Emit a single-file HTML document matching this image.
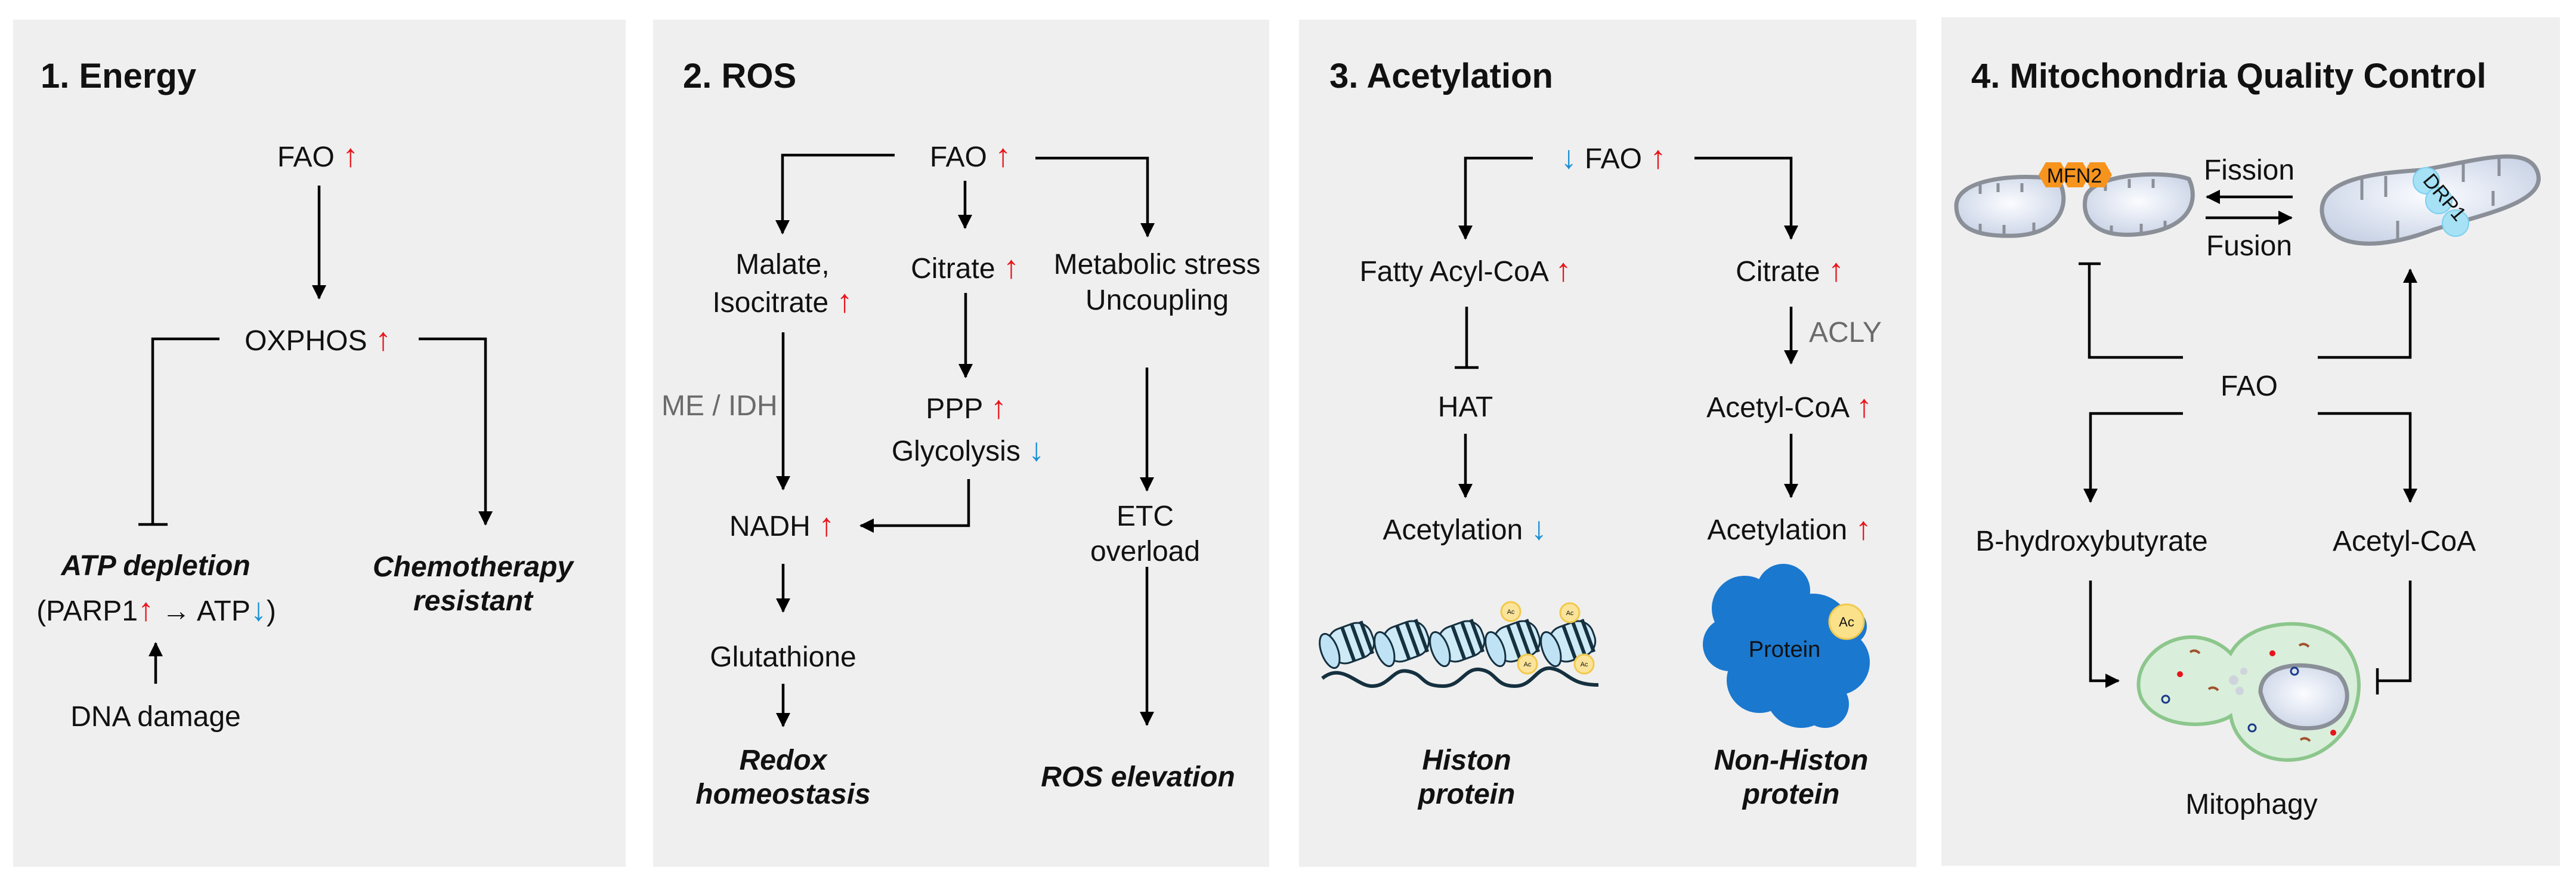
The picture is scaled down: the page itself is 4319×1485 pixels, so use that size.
<!DOCTYPE html>
<html><head><meta charset="utf-8"><style>
html,body{margin:0;padding:0;background:#fff;}
svg{display:block;}
text{font-family:"Liberation Sans",Arial,sans-serif;font-size:48px;fill:#111;}
.t{font-size:58px;font-weight:bold;}
.bi{font-weight:bold;font-style:italic;}
.g{fill:#6b6b6b;}
.r{fill:#e8141b;font-size:54px;}
.b{fill:#1a8fd6;font-size:54px;}
</style></head><body>
<svg width="4319" height="1485" viewBox="0 0 4319 1485" xmlns="http://www.w3.org/2000/svg">
<defs>
<marker id="ah" markerUnits="userSpaceOnUse" markerWidth="30" markerHeight="30" refX="22" refY="12" orient="auto">
<path d="M0,0 L24,12 L0,24 Z" fill="#000"/>
</marker>
<radialGradient id="mg" cx="50%" cy="45%" r="60%"><stop offset="0" stop-color="#fbfcff"/><stop offset="1" stop-color="#c9d3e6"/></radialGradient>
</defs>
<rect width="4319" height="1485" fill="#fff"/>
<rect x="22" y="33" width="1027" height="1420" fill="#efefef"/>
<rect x="1095" y="33" width="1033" height="1420" fill="#efefef"/>
<rect x="2178" y="33" width="1035" height="1420" fill="#efefef"/>
<rect x="3255" y="29" width="1037" height="1422" fill="#efefef"/>

<g stroke="#000" stroke-width="4.5" fill="none">
<path d="M535,311 V500" marker-end="url(#ah)"/>
<path d="M368,568 H256 V879 M232,879 H281"/>
<path d="M702,568 H814 V879" marker-end="url(#ah)"/>
<path d="M261,1146 V1078" marker-end="url(#ah)"/>
<path d="M1500,260 H1312 V391" marker-end="url(#ah)"/>
<path d="M1618,303 V382" marker-end="url(#ah)"/>
<path d="M1736,265 H1924 V396" marker-end="url(#ah)"/>
<path d="M1313,557 V820" marker-end="url(#ah)"/>
<path d="M1619,491 V632" marker-end="url(#ah)"/>
<path d="M1624,803 V881 H1443" marker-end="url(#ah)"/>
<path d="M1923,616 V822" marker-end="url(#ah)"/>
<path d="M1313,945 V1025" marker-end="url(#ah)"/>
<path d="M1313,1146 V1217" marker-end="url(#ah)"/>
<path d="M1923,950 V1215" marker-end="url(#ah)"/>
<path d="M2570,265 H2457 V400" marker-end="url(#ah)"/>
<path d="M2841,265 H3003 V400" marker-end="url(#ah)"/>
<path d="M2459,514 V616 M2439,616 H2479"/>
<path d="M2457,727 V833" marker-end="url(#ah)"/>
<path d="M3003,514 V609" marker-end="url(#ah)"/>
<path d="M3003,727 V833" marker-end="url(#ah)"/>
<path d="M3844,330 H3700" marker-end="url(#ah)"/>
<path d="M3698,365 H3842" marker-end="url(#ah)"/>
<path d="M3660,599 H3503 V442 M3485,442 H3522"/>
<path d="M3886,599 H4041 V452" marker-end="url(#ah)"/>
<path d="M3660,693 H3505 V841" marker-end="url(#ah)"/>
<path d="M3886,693 H4041 V841" marker-end="url(#ah)"/>
<path d="M3505,973 V1141 H3552" marker-end="url(#ah)"/>
<path d="M4041,973 V1141 H3986 M3986,1120 V1164"/>
</g>

<text class="t" x="68" y="147">1. Energy</text>
<text x="533" y="279" text-anchor="middle">FAO <tspan class="r">↑</tspan></text>
<text x="533" y="587" text-anchor="middle">OXPHOS <tspan class="r">↑</tspan></text>
<text class="bi" x="261" y="964" text-anchor="middle">ATP depletion</text>
<text x="262" y="1040" text-anchor="middle">(PARP1<tspan class="r">↑</tspan> → ATP<tspan class="b">↓</tspan>)</text>
<text x="261" y="1217" text-anchor="middle">DNA damage</text>
<text class="bi" x="793" y="966" text-anchor="middle">Chemotherapy</text>
<text class="bi" x="793" y="1023" text-anchor="middle">resistant</text>

<text class="t" x="1145" y="147">2. ROS</text>
<text x="1627" y="279" text-anchor="middle">FAO <tspan class="r">↑</tspan></text>
<text x="1312" y="459" text-anchor="middle">Malate,</text>
<text x="1312" y="523" text-anchor="middle">Isocitrate <tspan class="r">↑</tspan></text>
<text x="1618" y="466" text-anchor="middle">Citrate <tspan class="r">↑</tspan></text>
<text x="1940" y="459" text-anchor="middle">Metabolic stress</text>
<text x="1940" y="519" text-anchor="middle">Uncoupling</text>
<text class="g" x="1109" y="696">ME / IDH</text>
<text x="1620" y="701" text-anchor="middle">PPP <tspan class="r">↑</tspan></text>
<text x="1623" y="772" text-anchor="middle">Glycolysis <tspan class="b">↓</tspan></text>
<text x="1311" y="898" text-anchor="middle">NADH <tspan class="r">↑</tspan></text>
<text x="1920" y="881" text-anchor="middle">ETC</text>
<text x="1920" y="940" text-anchor="middle">overload</text>
<text x="1313" y="1117" text-anchor="middle">Glutathione</text>
<text class="bi" x="1313" y="1290" text-anchor="middle">Redox</text>
<text class="bi" x="1313" y="1347" text-anchor="middle">homeostasis</text>
<text class="bi" x="1908" y="1318" text-anchor="middle">ROS elevation</text>

<text class="t" x="2229" y="147">3. Acetylation</text>
<text x="2705" y="282" text-anchor="middle"><tspan class="b">↓</tspan> FAO <tspan class="r">↑</tspan></text>
<text x="2457" y="471" text-anchor="middle">Fatty Acyl-CoA <tspan class="r">↑</tspan></text>
<text x="3001" y="471" text-anchor="middle">Citrate <tspan class="r">↑</tspan></text>
<text class="g" x="3033" y="573">ACLY</text>
<text x="2457" y="698" text-anchor="middle">HAT</text>
<text x="3000" y="699" text-anchor="middle">Acetyl-CoA <tspan class="r">↑</tspan></text>
<text x="2456" y="904" text-anchor="middle">Acetylation <tspan class="b">↓</tspan></text>
<text x="3000" y="904" text-anchor="middle">Acetylation <tspan class="r">↑</tspan></text>

<path d="M2217,1137 C2250,1110 2275,1150 2300,1150 C2330,1150 2335,1120 2360,1125 C2390,1130 2380,1150 2420,1150 C2450,1150 2455,1120 2480,1122 C2510,1125 2505,1150 2540,1150 C2570,1150 2575,1118 2600,1120 C2630,1125 2630,1148 2680,1148" stroke="#15303f" stroke-width="6" fill="none"/>
<g stroke="#15303f" stroke-width="3">
<g transform="translate(2265,1078) rotate(-20)"><rect x="-38" y="-30" width="76" height="60" rx="26" fill="#cfeaf7"/><path d="M-5,-31 V31 M12,-31 V31 M28,-29 V29" stroke-width="6"/><ellipse cx="-38" cy="0" rx="14" ry="30" fill="#bfe3f4"/></g>
<g transform="translate(2357,1075) rotate(-20)"><rect x="-38" y="-30" width="76" height="60" rx="26" fill="#cfeaf7"/><path d="M-5,-31 V31 M12,-31 V31 M28,-29 V29" stroke-width="6"/><ellipse cx="-38" cy="0" rx="14" ry="30" fill="#bfe3f4"/></g>
<g transform="translate(2450,1075) rotate(-20)"><rect x="-38" y="-30" width="76" height="60" rx="26" fill="#cfeaf7"/><path d="M-5,-31 V31 M12,-31 V31 M28,-29 V29" stroke-width="6"/><ellipse cx="-38" cy="0" rx="14" ry="30" fill="#bfe3f4"/></g>
<g transform="translate(2543,1075) rotate(-20)"><rect x="-38" y="-30" width="76" height="60" rx="26" fill="#cfeaf7"/><path d="M-5,-31 V31 M12,-31 V31 M28,-29 V29" stroke-width="6"/><ellipse cx="-38" cy="0" rx="14" ry="30" fill="#bfe3f4"/></g>
<g transform="translate(2636,1075) rotate(-20)"><rect x="-38" y="-30" width="76" height="60" rx="26" fill="#cfeaf7"/><path d="M-5,-31 V31 M12,-31 V31 M28,-29 V29" stroke-width="6"/><ellipse cx="-38" cy="0" rx="14" ry="30" fill="#bfe3f4"/></g>
</g>
<g fill="#fbe49a" stroke="#f2c94c" stroke-width="3">
<circle cx="2533" cy="1025" r="16"/><circle cx="2561" cy="1113" r="16"/><circle cx="2632" cy="1027" r="16"/><circle cx="2656" cy="1113" r="16"/>
</g>
<g text-anchor="middle"><text x="2533" y="1029" style="font-size:11px">Ac</text><text x="2561" y="1117" style="font-size:11px">Ac</text><text x="2632" y="1031" style="font-size:11px">Ac</text><text x="2656" y="1117" style="font-size:11px">Ac</text></g>

<g fill="#1a78cf">
<circle cx="2925" cy="1020" r="55"/><circle cx="2990" cy="990" r="45"/><circle cx="2900" cy="1080" r="45"/><circle cx="2960" cy="1060" r="70"/>
<circle cx="3040" cy="1060" r="65"/><circle cx="3080" cy="1110" r="55"/><circle cx="3020" cy="1160" r="60"/><circle cx="2950" cy="1140" r="55"/><circle cx="3060" cy="1180" r="40"/><circle cx="3100" cy="1050" r="30"/>
</g>
<text x="2992" y="1101" text-anchor="middle" style="font-size:38px">Protein</text>
<circle cx="3096" cy="1042" r="29" fill="#fbe18a" stroke="#f2c94c" stroke-width="3"/>
<text x="3096" y="1050" text-anchor="middle" style="font-size:22px">Ac</text>

<text class="bi" x="2459" y="1290" text-anchor="middle">Histon</text>
<text class="bi" x="2459" y="1347" text-anchor="middle">protein</text>
<text class="bi" x="3003" y="1290" text-anchor="middle">Non-Histon</text>
<text class="bi" x="3003" y="1347" text-anchor="middle">protein</text>

<text class="t" x="3305" y="147">4. Mitochondria Quality Control</text>
<g stroke="#8a8f98" stroke-width="7" fill="url(#mg)">
<path d="M3280,345 C3280,300 3380,290 3450,300 C3470,330 3465,390 3380,395 C3300,398 3280,375 3280,345 Z"/>
<path d="M3497,330 C3510,290 3630,285 3670,300 C3685,330 3680,385 3580,393 C3505,398 3490,360 3497,330 Z"/>
<path d="M3893,355 C3890,300 3980,290 4060,285 C4150,270 4240,240 4255,290 C4270,340 4160,360 4080,385 C3990,420 3900,420 3893,355 Z"/>
</g>
<g stroke="#8a8f98" stroke-width="5" fill="none">
<path d="M3320,310 V325 M3350,307 V322 M3390,307 V322 M3320,390 V375 M3360,392 V377 M3410,388 V373"/>
<path d="M3530,305 V320 M3570,300 V315 M3610,300 V315 M3540,393 V378 M3590,390 V375 M3630,385 V370"/>
<path d="M3960,300 V335 M4000,295 V330 M4130,270 V305 M4190,260 V295 M4020,405 V370 M4180,345 V320"/>
</g>
<g fill="#f7941d">
<polygon points="3418,293 3430,272 3455,272 3467,293 3455,314 3430,314"/>
<polygon points="3455,293 3467,272 3492,272 3504,293 3492,314 3467,314"/>
<polygon points="3492,293 3504,272 3529,272 3541,293 3529,314 3504,314"/>
</g>
<text x="3478" y="306" text-anchor="middle" style="font-size:34px">MFN2</text>
<g fill="#a6e1f5" stroke="#7cd0ee" stroke-width="2">
<circle cx="4068" cy="303" r="22"/><circle cx="4089" cy="336" r="22"/><circle cx="4117" cy="374" r="22"/>
</g>
<text x="4090" y="338" text-anchor="middle" transform="rotate(50 4090 338)" style="font-size:34px">DRP1</text>
<text x="3771" y="301" text-anchor="middle">Fission</text>
<text x="3771" y="428" text-anchor="middle">Fusion</text>
<text x="3771" y="663" text-anchor="middle">FAO</text>
<text x="3507" y="923" text-anchor="middle">B-hydroxybutyrate</text>
<text x="4031" y="923" text-anchor="middle">Acetyl-CoA</text>

<path d="M3740,1095 C3770,1040 3870,1030 3920,1070 C3980,1120 3960,1230 3880,1265 C3820,1290 3750,1260 3740,1200 C3710,1220 3620,1225 3590,1170 C3570,1120 3620,1065 3680,1068 C3710,1070 3730,1085 3740,1095 Z" fill="#d9eedb" stroke="#8cc68c" stroke-width="6"/>
<path d="M3790,1160 C3790,1110 3870,1105 3920,1130 C3950,1160 3935,1215 3880,1220 C3830,1225 3800,1200 3790,1160 Z" fill="url(#mg)" stroke="#8a8f98" stroke-width="7"/>
<g fill="#e8141b"><circle cx="3655" cy="1130" r="5"/><circle cx="3810" cy="1095" r="5"/><circle cx="3912" cy="1228" r="5"/></g>
<g fill="none" stroke="#1a3a8a" stroke-width="3"><circle cx="3631" cy="1172" r="6"/><circle cx="3847" cy="1125" r="6"/><circle cx="3776" cy="1220" r="6"/></g>
<g stroke="#a0522d" stroke-width="4" fill="none"><path d="M3672,1093 q8,-6 16,2"/><path d="M3703,1155 q8,-6 16,2"/><path d="M3855,1082 q8,-6 16,2"/><path d="M3857,1240 q8,-6 16,2"/></g>
<g fill="#cfd4dc"><circle cx="3745" cy="1140" r="8"/><circle cx="3762" cy="1125" r="6"/><circle cx="3755" cy="1158" r="7"/></g>
<text x="3775" y="1364" text-anchor="middle">Mitophagy</text>
</svg>
</body></html>
